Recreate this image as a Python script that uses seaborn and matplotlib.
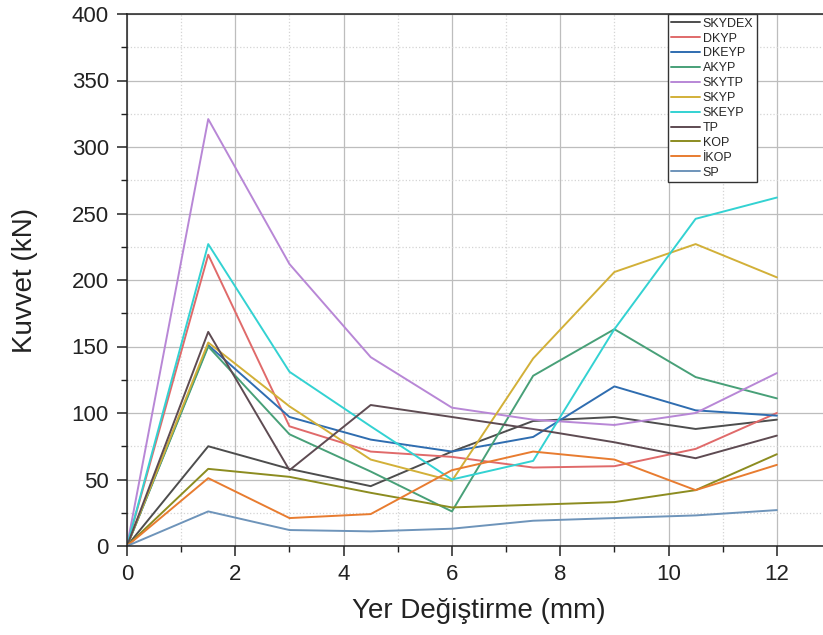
import matplotlib
matplotlib.use("Agg")
import matplotlib.pyplot as plt
from matplotlib.ticker import MultipleLocator
import seaborn as sns
import pandas as pd

# ---- data ----
displacement = [0, 1.5, 3, 4.5, 6, 7.5, 9, 10.5, 12]
series_names = ["SKYDEX", "DKYP", "DKEYP", "AKYP", "SKYTP", "SKYP",
                "SKEYP", "TP", "KOP", "İKOP", "SP"]
SKYDEX = [0, 75, 58, 45, 71, 94, 97, 88, 95]
DKYP = [0, 219, 90, 71, 67, 59, 60, 73, 100]
DKEYP = [0, 151, 97, 80, 71, 82, 120, 102, 98]
AKYP = [0, 150, 84, 56, 26, 128, 163, 127, 111]
SKYTP = [0, 321, 212, 142, 104, 95, 91, 100, 130]
SKYP = [0, 153, 105, 65, 49, 141, 206, 227, 202]
SKEYP = [0, 227, 131, 90, 50, 64, 163, 246, 262]
TP = [0, 161, 57, 106, 97, 88, 78, 66, 83]
KOP = [0, 58, 52, 40, 29, 31, 33, 42, 69]
IKOP = [0, 51, 21, 24, 57, 71, 65, 42, 61]
SP = [0, 26, 12, 11, 13, 19, 21, 23, 27]
values = [SKYDEX, DKYP, DKEYP, AKYP, SKYTP, SKYP, SKEYP, TP, KOP, IKOP, SP]
colors = ["#4d4d4d", "#e06a6a", "#2f6db0", "#48a078", "#b887d6", "#d2b038",
          "#33d2d2", "#5e4b52", "#8c8c20", "#e87c30", "#6e94ba"]

rows = []
for name, vals in zip(series_names, values):
    for xv, yv in zip(displacement, vals):
        rows.append({"x": xv, "y": yv, "series": name})
df = pd.DataFrame(rows)

# ---- style ----
sns.set_style("white")
plt.rcParams["font.family"] = ["Liberation Sans", "DejaVu Sans"]

fig = plt.figure(figsize=(8.23, 6.35), dpi=100)
ax = fig.add_axes([127 / 823, 89 / 635, 704 / 823, 532 / 635])

sns.lineplot(data=df, x="x", y="y", hue="series", hue_order=series_names,
             palette=dict(zip(series_names, colors)), estimator=None,
             sort=False, linewidth=1.4, ax=ax)

ax.set_xlim(0, 13)
ax.set_ylim(0, 400)
ax.xaxis.set_major_locator(MultipleLocator(2))
ax.xaxis.set_minor_locator(MultipleLocator(1))
ax.yaxis.set_major_locator(MultipleLocator(50))
ax.yaxis.set_minor_locator(MultipleLocator(25))

ax.grid(which="major", color="#bdbdbd", linestyle="-", linewidth=0.9)
ax.grid(which="minor", color="#d4d4d4", linestyle=":", linewidth=0.9)
ax.set_axisbelow(True)

for side in ["left", "bottom", "top"]:
    ax.spines[side].set_visible(True)
    ax.spines[side].set_color("#222222")
    ax.spines[side].set_linewidth(1.1)
ax.spines["right"].set_visible(False)

ax.tick_params(which="major", direction="out", length=7, width=1.1, pad=6,
               labelsize=16, colors="#222222", left=True, bottom=True)
ax.tick_params(which="minor", direction="out", length=4, width=1.0,
               left=True, bottom=True, colors="#222222")

ax.set_xlabel("Yer Değiştirme (mm)", fontsize=20, labelpad=9, color="#222222")
ax.set_ylabel("Kuvvet (kN)", fontsize=20, labelpad=24, color="#222222")

handles, labels = ax.get_legend_handles_labels()
leg = ax.legend(handles, labels, loc="upper left", bbox_to_anchor=(0.768, 1.0),
                borderaxespad=0, fontsize=9, frameon=True, fancybox=False,
                framealpha=1, edgecolor="#333333", labelspacing=0.23,
                handlelength=2.3, handletextpad=0.2, borderpad=0.3)
leg.get_frame().set_linewidth(1.0)

fig.savefig("out.png", dpi=100)
